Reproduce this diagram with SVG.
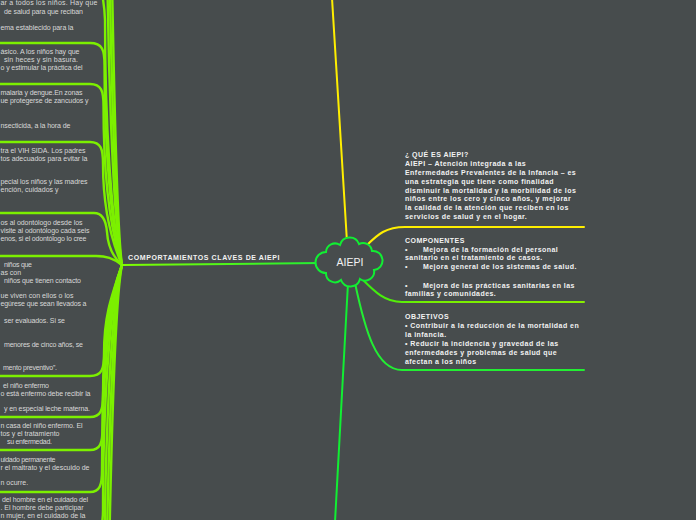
<svg xmlns="http://www.w3.org/2000/svg" width="696" height="520" viewBox="0 0 696 520">
<defs>
<style>
.lt{font-family:"Liberation Sans",Arial,sans-serif;font-size:7px;fill:#d8d8d8}
.bt{font-family:"Liberation Sans",Arial,sans-serif;font-size:7px;font-weight:bold;fill:#f2f2f2;letter-spacing:0.45px}
.br{fill:none;stroke:#7cf000;stroke-width:2.4;stroke-linecap:round}
.c{fill:none;stroke-width:2;stroke-linecap:round}
</style>
<linearGradient id="gL" x1="320" y1="0" x2="122" y2="0" gradientUnits="userSpaceOnUse">
<stop offset="0" stop-color="#22ee33"/><stop offset="1" stop-color="#80ff00"/>
</linearGradient>
<linearGradient id="gC" x1="362" y1="0" x2="584" y2="0" gradientUnits="userSpaceOnUse">
<stop offset="0" stop-color="#33ee11"/><stop offset="0.3" stop-color="#77ee00"/><stop offset="1" stop-color="#88ee00"/>
</linearGradient>
</defs>
<rect x="0" y="0" width="696" height="520" fill="#474c4d"/>

<g id="connectors">
<path class="br" d="M0,-280 H90 C108,-280 110,-274 110,-258 C110,-49 116,225 122,265"/>
<path class="br" d="M0,-190 H90 C106.5,-190 108.5,-184 108.5,-168 C108.5,5 114.5,225 122,265"/>
<path class="br" d="M0,-110 H90 C105,-110 107,-104 107,-88 C107,53 113,225 122,265"/>
<path class="br" d="M0,-30 H88 C98,-30 104,-5 105,20 C105,118 111,225 122,265"/>
<path class="br" d="M0,43 H90 C102.5,43 104.5,50 104.5,65 C104.5,145 110.5,225 122,265"/>
<path class="br" d="M0,84 H90 C101.5,84 103.5,91 103.5,106 C103.5,170 109.5,228 122,265"/>
<path class="br" d="M0,142 H90 C101,142 103,149 103,164 C103,204 109,235 122,265"/>
<path class="br" d="M0,213 H94 C102,213 106,220 107,232 C108,248 114,258 122,265"/>
<path class="br" d="M0,256 H96 C106,256 113,258 122,265"/>
<path class="br" d="M0,376 H90 C102,376 104,369 104,354 C104,318 110,300 122,265"/>
<path class="br" d="M0,417 H90 C101,417 103,410 103,395 C103,343 109,300 122,265"/>
<path class="br" d="M0,450 H90 C100.5,450 102.5,443 102.5,428 C102.5,363 108.5,303 122,265"/>
<path class="br" d="M0,492 H90 C100,492 102,485 102,470 C102,388 108,305 122,265"/>
<path class="br" d="M0,532 H90 C101,532 103,525 103,510 C103,412 109,305 122,265"/>
<path class="br" d="M0,600 H90 C102.5,600 104.5,593 104.5,578 C104.5,453 110.5,305 122,265"/>
<path class="br" d="M0,680 H90 C104,680 106,673 106,658 C106,501 112,305 122,265"/>
<path class="br" d="M0,770 H90 C105.5,770 107.5,763 107.5,748 C107.5,555 113.5,305 122,265"/>
<path class="c" stroke="url(#gL)" stroke-width="2.4" d="M122,265 L320,263"/>
<path class="c" stroke="#ffee00" d="M332,-2 Q340,120 347,242"/>
<path class="c" stroke="#ffee00" d="M366,246 C378,234 386,227 405,227 H584"/>
<path class="c" stroke="url(#gC)" d="M362,279 C375,292 385,302 402,302 H584"/>
<path class="c" stroke="#22ee33" d="M355,283 C365,330 376,370 402,370 H584"/>
<path class="c" stroke="#11ee33" d="M348,283 L335,522"/>
</g>

<g id="aiepi">
<path d="M326,252 A9,9 0 0 1 340,245 A10,10 0 0 1 359,244 A9,9 0 0 1 372,251 A9,9 0 0 1 374,270 A9,9 0 0 1 360,279 A10,10 0 0 1 341,280 A9,9 0 0 1 326,273 A10,10 0 0 1 326,252 Z" fill="#474c4d" stroke="#11ee33" stroke-width="2"/>
<text x="350" y="266" text-anchor="middle" style="font-family:'Liberation Sans',Arial,sans-serif;font-size:10.5px;fill:#f2f2f2">AIEPI</text>
</g>

<g id="comportamientos">
<text class="bt" x="128" y="260" style="letter-spacing:0.6px">COMPORTAMIENTOS CLAVES DE AIEPI</text>
</g>

<g id="que-es">
<text class="bt" x="405" y="157">¿ QUÉ ES AIEPI?</text>
<text class="bt" x="405" y="166">AIEPI – Atención integrada a las</text>
<text class="bt" x="405" y="175">Enfermedades Prevalentes de la Infancia – es</text>
<text class="bt" x="405" y="183.5">una estrategia que tiene como finalidad</text>
<text class="bt" x="405" y="192.5">disminuir la mortalidad y la morbilidad de los</text>
<text class="bt" x="405" y="201">niños entre los cero y cinco años, y mejorar</text>
<text class="bt" x="405" y="210">la calidad de la atención que reciben en los</text>
<text class="bt" x="405" y="219">servicios de salud y en el hogar.</text>
</g>

<g id="componentes">
<text class="bt" x="405" y="242.5">COMPONENTES</text>
<text class="bt" x="405" y="251.5">•</text><text class="bt" x="423" y="251.5">Mejora de la formación del personal</text>
<text class="bt" x="405" y="260">sanitario en el tratamiento de casos.</text>
<text class="bt" x="405" y="269">•</text><text class="bt" x="423" y="269">Mejora general de los sistemas de salud.</text>
<text class="bt" x="405" y="287.5">•</text><text class="bt" x="423" y="287.5">Mejora de las prácticas sanitarias en las</text>
<text class="bt" x="405" y="296">familias y comunidades.</text>
</g>

<g id="objetivos">
<text class="bt" x="405" y="319">OBJETIVOS</text>
<text class="bt" x="405" y="328">• Contribuir a la reducción de la mortalidad en</text>
<text class="bt" x="405" y="337">la infancia.</text>
<text class="bt" x="405" y="346">• Reducir la incidencia y gravedad de las</text>
<text class="bt" x="405" y="354.5">enfermedades y problemas de salud que</text>
<text class="bt" x="405" y="363.5">afectan a los niños</text>
</g>

<g id="n1">
<text class="lt" x="0.5" y="5" textLength="97" lengthAdjust="spacing">ar a todos los niños. Hay que</text>
<text class="lt" x="4" y="14" textLength="79" lengthAdjust="spacing">de salud para que reciban</text>
<text class="lt" x="0.5" y="30" textLength="73" lengthAdjust="spacing">ema establecido para la</text>
</g>
<g id="n2">
<text class="lt" x="0.5" y="54" textLength="79" lengthAdjust="spacing">ásico. A los niños hay que</text>
<text class="lt" x="4" y="62" textLength="74" lengthAdjust="spacing">sin heces y sin basura.</text>
<text class="lt" x="0.5" y="70" textLength="82" lengthAdjust="spacing">o y estimular la práctica del</text>
</g>
<g id="n3">
<text class="lt" x="0.5" y="95" textLength="82" lengthAdjust="spacing">malaria y dengue.En zonas</text>
<text class="lt" x="0.5" y="103" textLength="88" lengthAdjust="spacing">ue protegerse de zancudos y</text>
<text class="lt" x="0.5" y="128" textLength="70" lengthAdjust="spacing">nsecticida, a la hora de</text>
</g>
<g id="n4">
<text class="lt" x="0.5" y="153" textLength="85" lengthAdjust="spacing">tra el VIH SIDA. Los padres</text>
<text class="lt" x="0.5" y="161" textLength="87" lengthAdjust="spacing">tos adecuados para evitar la</text>
<text class="lt" x="0.5" y="184" textLength="87" lengthAdjust="spacing">pecial los niños y las madres</text>
<text class="lt" x="0.5" y="192" textLength="58" lengthAdjust="spacing">ención, cuidados y</text>
</g>
<g id="n5">
<text class="lt" x="0.5" y="225" textLength="82" lengthAdjust="spacing">os al odontólogo desde los</text>
<text class="lt" x="0.5" y="233" textLength="89" lengthAdjust="spacing">visite al odontólogo cada seis</text>
<text class="lt" x="0.5" y="241" textLength="86" lengthAdjust="spacing">enos, si el odontólogo lo cree</text>
</g>
<g id="n6">
<text class="lt" x="4" y="267" textLength="28" lengthAdjust="spacing">niños que</text>
<text class="lt" x="0.5" y="275">as con</text>
<text class="lt" x="4" y="283" textLength="77" lengthAdjust="spacing">niños que tienen contacto</text>
<text class="lt" x="0.5" y="298" textLength="73" lengthAdjust="spacing">ue viven con ellos o los</text>
<text class="lt" x="0.5" y="306" textLength="86" lengthAdjust="spacing">egúrese que sean llevados a</text>
<text class="lt" x="4" y="323" textLength="61" lengthAdjust="spacing">ser evaluados. Si se</text>
<text class="lt" x="4" y="347" textLength="79" lengthAdjust="spacing">menores de cinco años, se</text>
<text class="lt" x="3" y="370" textLength="54" lengthAdjust="spacing">mento preventivo”.</text>
</g>
<g id="n7">
<text class="lt" x="3" y="388" textLength="46" lengthAdjust="spacing">el niño enfermo</text>
<text class="lt" x="0.5" y="396" textLength="90" lengthAdjust="spacing">o está enfermo debe recibir la</text>
<text class="lt" x="4" y="411" textLength="86" lengthAdjust="spacing">y en especial leche materna.</text>
</g>
<g id="n8">
<text class="lt" x="0.5" y="428" textLength="82" lengthAdjust="spacing">n casa del niño enfermo. El</text>
<text class="lt" x="0.5" y="436" textLength="59" lengthAdjust="spacing">tos y el tratamiento</text>
<text class="lt" x="7" y="444" textLength="45" lengthAdjust="spacing">su enfermedad.</text>
</g>
<g id="n9">
<text class="lt" x="0.5" y="462" textLength="55" lengthAdjust="spacing">uidado permanente</text>
<text class="lt" x="0.5" y="470" textLength="89" lengthAdjust="spacing">r el maltrato y el descuido de</text>
<text class="lt" x="0.5" y="485">n ocurre.</text>
</g>
<g id="n10">
<text class="lt" x="2" y="502" textLength="86" lengthAdjust="spacing">del hombre en el cuidado del</text>
<text class="lt" x="0.5" y="510" textLength="83" lengthAdjust="spacing">. El hombre debe participar</text>
<text class="lt" x="0.5" y="518" textLength="85" lengthAdjust="spacing">n mujer, en el cuidado de la</text>
</g>
</svg>
